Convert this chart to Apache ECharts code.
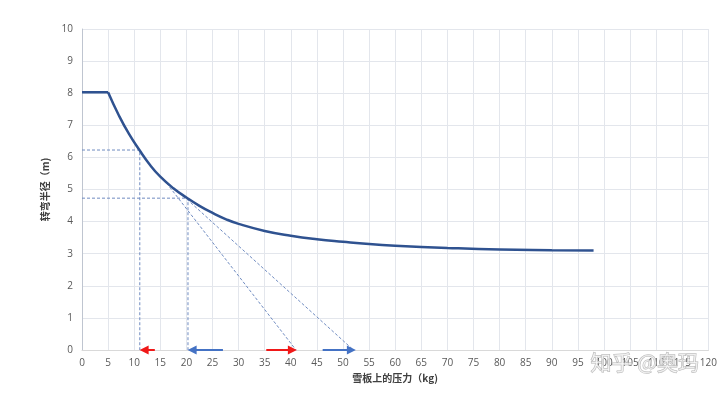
<!DOCTYPE html>
<html><head><meta charset="utf-8">
<script src="https://cdn.jsdelivr.net/npm/echarts@6/dist/echarts.min.js"></script>
<style>html,body{margin:0;padding:0;background:#fff}#c{width:720px;height:393px}</style>
</head><body><div id="c"></div>
<script>
// Curve data
const curveX = [0, 5, 7, 9, 11, 13, 15, 17.5, 20, 22.5, 25, 27.5, 30, 35, 40, 45, 50, 55, 60, 70, 80, 90, 98];
const curveY = [8.03, 8.03, 7.33, 6.73, 6.23, 5.77, 5.40, 5.04, 4.75, 4.49, 4.27, 4.08, 3.93, 3.71, 3.56, 3.45, 3.37, 3.30, 3.25, 3.18, 3.13, 3.11, 3.10];
// Guide (dashed) lines
const guide1 = [[0, 6.23], [11.07, 6.23], [11.07, 0]];
const guide2 = [[0, 4.73], [20.3, 4.73], [20.3, 0]];
const tangent1 = [[16.2, 5.2], [41.0, 0]];
const tangent2 = [[19.4, 4.8], [52.0, 0]];
// Arrows along the x axis: [tail, tip]
const arrowsRed = [[13.95, 11.1], [35.3, 41.1]];
const arrowsBlue = [[27.0, 20.3], [46.1, 52.4]];
const xName = '雪板上的压力（kg)';
const yName = '转弯半径（m)';

const flat = curveX.slice(0, 2).map((x, i) => [x, curveY[i]]);
const curve = curveX.slice(1).map((x, i) => [x, curveY[i + 1]]);
const dashStyle = { color: '#6F8BC0', width: 1, type: [3, 2] };
function guideSeries(d) {
  return { type: 'line', data: d, symbol: 'none', lineStyle: dashStyle, silent: true, z: 2 };
}
const HEAD_HALF = 0.8; // half the arrow head length in axis units (head is centred on the end point)
function arrowSeries(list, color) {
  return {
    type: 'lines', coordinateSystem: 'cartesian2d', clip: false, z: 5,
    symbol: ['none', 'triangle'], symbolSize: [10, 9],
    lineStyle: { color: color, width: 2, opacity: 1, curveness: 0 },
    data: list.map(a => {
      const dir = Math.sign(a[1] - a[0]);
      return { coords: [[a[0], 0], [a[1] - dir * HEAD_HALF, 0]] };
    })
  };
}
const chart = echarts.init(document.getElementById('c'));
chart.setOption({
  animation: false,
  grid: { left: 82, right: 10, top: 29, bottom: 43 },
  xAxis: {
    type: 'value', min: 0, max: 120, interval: 5,
    name: xName, nameLocation: 'middle', nameGap: 22,
    nameTextStyle: { fontFamily: 'Noto Sans CJK SC', fontSize: 10, fontWeight: 'bold', color: '#404040' },
    axisLine: { show: true, lineStyle: { color: '#D9D9D9' } },
    axisTick: { show: false },
    axisLabel: { color: '#595959', fontSize: 10, fontFamily: 'Open Sans', margin: 8 },
    splitLine: { show: true, lineStyle: { color: '#E3E6EC', width: 1 } }
  },
  yAxis: {
    type: 'value', min: 0, max: 10, interval: 1,
    name: yName, nameLocation: 'middle', nameGap: 31,
    nameTextStyle: { fontFamily: 'Noto Sans CJK SC', fontSize: 10, fontWeight: 'bold', color: '#404040' },
    axisLine: { show: true, lineStyle: { color: '#BFC5D0' } },
    axisTick: { show: false },
    axisLabel: { color: '#595959', fontSize: 10, fontFamily: 'Open Sans', margin: 9 },
    splitLine: { show: true, lineStyle: { color: '#E3E6EC', width: 1 } }
  },
  series: [
    guideSeries(guide1), guideSeries(guide2), guideSeries(tangent1), guideSeries(tangent2),
    { type: 'line', data: flat, symbol: 'none', lineStyle: { color: '#2F5290', width: 2.5 }, z: 4 },
    { type: 'line', data: curve, symbol: 'none', smooth: true, lineStyle: { color: '#2F5290', width: 2.5 }, z: 4 },
    arrowSeries(arrowsRed, '#F01818'),
    arrowSeries(arrowsBlue, '#4472C4')
  ],
  graphic: [{
    type: 'text', left: 590, top: 351, z: 100,
    style: { text: '知乎 @奥玛', font: '21px "Noto Sans CJK SC"', fill: 'rgba(255,255,255,0.6)', stroke: '#B5B5B5', lineWidth: 1 }
  }]
});
</script></body></html>
